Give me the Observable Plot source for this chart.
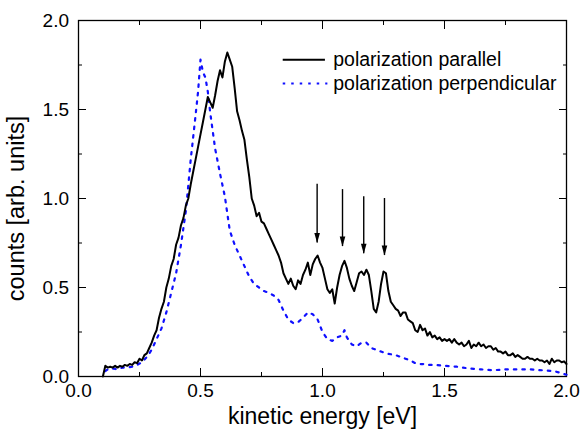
<!DOCTYPE html>
<html><head><meta charset="utf-8">
<script src="https://cdn.jsdelivr.net/npm/d3@7"></script>
<script src="https://cdn.jsdelivr.net/npm/@observablehq/plot@0.6"></script>
<style>
body{margin:0;background:#fff}
</style></head><body><div id="chart"></div>
<script>
// ---- data ----
const parallelStart = 0.10, parallelStep = 0.01;
const parallelCounts = [
  0.00,0.06,0.05,0.055,0.05,0.06,0.05,0.06,0.055,0.065,
  0.06,0.07,0.065,0.08,0.075,0.10,0.09,0.12,0.13,0.16,
  0.19,0.23,0.26,0.33,0.38,0.42,0.50,0.55,0.62,0.66,
  0.74,0.78,0.85,0.89,0.96,1.00,1.08,1.15,1.22,1.29,
  1.36,1.43,1.50,1.57,1.54,1.51,1.58,1.66,1.72,1.68,
  1.77,1.82,1.78,1.74,1.62,1.49,1.44,1.38,1.33,1.22,
  1.12,1.00,0.96,0.90,0.92,0.87,0.86,0.83,0.80,0.77,
  0.74,0.71,0.68,0.64,0.58,0.55,0.52,0.55,0.51,0.49,
  0.54,0.52,0.57,0.60,0.64,0.57,0.63,0.66,0.68,0.64,
  0.61,0.55,0.49,0.47,0.49,0.41,0.50,0.57,0.62,0.65,
  0.61,0.55,0.51,0.48,0.53,0.58,0.59,0.57,0.60,0.57,
  0.48,0.38,0.36,0.42,0.52,0.59,0.58,0.48,0.42,0.40,
  0.38,0.37,0.34,0.36,0.36,0.32,0.31,0.30,0.26,0.25,
  0.29,0.26,0.27,0.23,0.25,0.22,0.23,0.21,0.22,0.20,
  0.21,0.20,0.21,0.19,0.21,0.19,0.18,0.19,0.17,0.18,
  0.20,0.16,0.18,0.17,0.19,0.17,0.18,0.16,0.17,0.17,
  0.15,0.16,0.14,0.14,0.13,0.14,0.12,0.12,0.13,0.11,
  0.12,0.11,0.10,0.10,0.11,0.10,0.10,0.09,0.10,0.09,
  0.09,0.08,0.09,0.07,0.10,0.08,0.09,0.09,0.08,0.085,
  0.07
];
const perpEnergy = [0.11,0.12,0.14,0.16,0.18,0.20,0.22,0.24,0.26,0.28,0.30,0.32,0.34,0.36,0.38,0.40,0.42,0.44,0.46,0.48,
  0.49,0.50,0.51,0.52,0.53,0.54,
  0.56,0.58,0.60,0.62,0.64,0.66,0.68,0.70,0.72,0.74,0.76,0.78,0.80,0.82,0.84,0.86,0.88,0.90,0.92,0.94,0.96,0.98,1.00,1.02,1.04,1.06,1.08,
  1.09,1.10,
  1.12,1.14,1.16,1.18,1.20,1.22,1.24,1.26,1.28,1.30,1.32,1.34,1.36,1.38,1.40,1.42,1.44,1.46,
  1.50,1.55,1.60,1.65,1.70,1.75,1.80,1.85,1.90,1.95,2.00];
const perpCounts = [0.03,0.04,0.045,0.04,0.05,0.05,0.055,0.065,0.08,0.11,0.15,0.21,0.27,0.36,0.47,0.58,0.74,0.93,1.22,1.47,
  1.60,1.78,1.71,1.68,1.60,1.48,
  1.28,1.14,1.01,0.82,0.74,0.68,0.62,0.56,0.52,0.50,0.48,0.47,0.455,0.43,0.37,0.32,0.30,0.305,0.33,0.36,0.35,0.32,0.25,0.21,0.20,0.22,0.23,
  0.26,0.22,
  0.18,0.17,0.19,0.19,0.16,0.15,0.14,0.13,0.125,0.12,0.11,0.10,0.09,0.075,0.07,0.07,0.065,0.065,
  0.06,0.055,0.045,0.04,0.035,0.04,0.04,0.04,0.035,0.03,0.01];
const arrowEnergy = [0.978, 1.082, 1.169, 1.254];
const arrowTop = [1.08, 1.05, 1.01, 1.00];
const arrowTip = [0.75, 0.73, 0.69, 0.68];
const majorTicks = [0, 0.5, 1.0, 1.5, 2.0];
const minorTicks = [0.25, 0.75, 1.25, 1.75];
const seriesNames = ["polarization parallel", "polarization perpendicular"];
const xLabel = "kinetic energy [eV]";
const yLabel = "counts [arb. units]";

// ---- tables ----
const parallel = parallelCounts.map((c, i) => ({energy: +(parallelStart + i * parallelStep).toFixed(2), counts: c}));
const perp = perpEnergy.map((e, i) => ({energy: e, counts: perpCounts[i]}));
const arrows = arrowEnergy.map((e, i) => ({energy: e, top: arrowTop[i], tip: arrowTip[i]}));
const head = {draw(ctx) { ctx.moveTo(0, 0); ctx.lineTo(-2.8, -10); ctx.lineTo(2.8, -10); ctx.closePath(); }};
const blank = () => "";
const fmt = d3.format(".1f");
const BLUE = "#1010ff";
const DOTS = "2.5,6";

const chart = Plot.plot({
  width: 581, height: 432,
  marginLeft: 78, marginRight: 15, marginTop: 20, marginBottom: 56,
  style: {fontFamily: "'Liberation Sans', Arial, Helvetica, sans-serif", background: "white", color: "black"},
  x: {domain: [0, 2]},
  y: {domain: [0, 2]},
  marks: [
    // inward ticks on all four sides
    Plot.axisX(majorTicks, {anchor: "bottom", tickSize: -8, tickFormat: blank, label: null}),
    Plot.axisX(minorTicks, {anchor: "bottom", tickSize: -4, tickFormat: blank, label: null}),
    Plot.axisX(majorTicks, {anchor: "top", tickSize: -8, tickFormat: blank, label: null}),
    Plot.axisX(minorTicks, {anchor: "top", tickSize: -4, tickFormat: blank, label: null}),
    Plot.axisY(majorTicks, {anchor: "left", tickSize: -8, tickFormat: blank, label: null}),
    Plot.axisY(minorTicks, {anchor: "left", tickSize: -4, tickFormat: blank, label: null}),
    Plot.axisY(majorTicks, {anchor: "right", tickSize: -8, tickFormat: blank, label: null}),
    Plot.axisY(minorTicks, {anchor: "right", tickSize: -4, tickFormat: blank, label: null}),
    // tick labels
    Plot.axisX(majorTicks, {anchor: "bottom", tickSize: 0, tickPadding: 7, tickFormat: fmt, fontSize: 19, label: null}),
    Plot.axisY(majorTicks, {anchor: "left", tickSize: 0, tickPadding: 9.5, tickFormat: fmt, fontSize: 19, label: null}),
    // axis titles
    Plot.text([xLabel], {frameAnchor: "bottom", dy: 40, text: d => d, textAnchor: "middle", lineAnchor: "middle", fontSize: 23, fill: "black"}),
    Plot.text([yLabel], {frameAnchor: "left", dx: -62, dy: 10, rotate: -90, text: d => d, textAnchor: "middle", lineAnchor: "middle", fontSize: 23.5, fill: "black"}),
    Plot.frame({stroke: "black", strokeWidth: 1.3}),
    // curves
    Plot.line(perp, {x: "energy", y: "counts", stroke: BLUE, strokeWidth: 2.2, strokeDasharray: DOTS}),
    Plot.line(parallel, {x: "energy", y: "counts", stroke: "black", strokeWidth: 2}),
    // arrows
    Plot.ruleX(arrows, {x: "energy", y1: "top", y2: "tip", stroke: "black", strokeWidth: 1.4}),
    Plot.dot(arrows, {x: "energy", y: "tip", symbol: head, fill: "black", stroke: "none"}),
    // legend
    Plot.ruleY([1.779], {x1: 0.839, x2: 1.012, stroke: "black", strokeWidth: 2}),
    Plot.ruleY([1.646], {x1: 0.839, x2: 1.022, stroke: BLUE, strokeWidth: 2.2, strokeDasharray: DOTS}),
    Plot.text(seriesNames, {x: 1.044, y: (d, i) => [1.778, 1.643][i], text: d => d, textAnchor: "start", fontSize: 19.5, fill: "black"})
  ]
});
document.getElementById("chart").appendChild(chart);
</script>
</body></html>
